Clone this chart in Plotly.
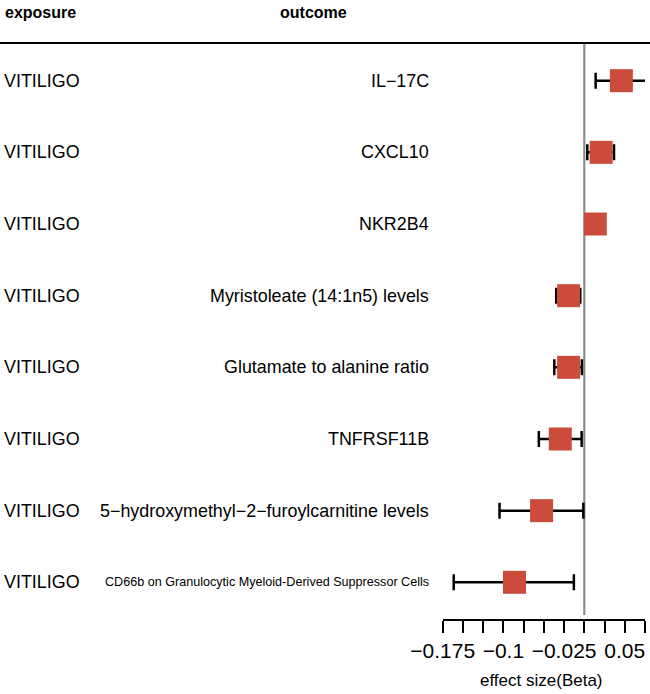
import plotly.graph_objects as go

exposure = ["VITILIGO"] * 8
outcome = [
    "IL−17C",
    "CXCL10",
    "NKR2B4",
    "Myristoleate (14:1n5) levels",
    "Glutamate to alanine ratio",
    "TNFRSF11B",
    "5−hydroxymethyl−2−furoylcarnitine levels",
    "CD66b on Granulocytic Myeloid-Derived Suppressor Cells",
]
beta = [0.0458, 0.0208, 0.0136, -0.0194, -0.0194, -0.0297, -0.0528, -0.0863]
lower = [0.0140, 0.0037, 0.0070, -0.0347, -0.0371, -0.0562, -0.1048, -0.1614]
upper = [0.0775, 0.0367, 0.0200, -0.0050, -0.0030, -0.0033, -0.0012, -0.0129]
tick_vals = [-0.175, -0.15, -0.125, -0.1, -0.075, -0.05, -0.025, 0.0, 0.025, 0.05, 0.075]
tick_text = ["−0.175", "", "", "−0.1", "", "", "−0.025", "", "", "0.05", ""]
outcome_sizes = [17.9, 17.9, 17.9, 17.9, 17.9, 17.9, 17.9, 12.6]

W, H = 650, 694
top, bottom = 43, 75
PH = H - top - bottom
n = len(outcome)
ypos = [n - i for i in range(n)]

fig = go.Figure()
fig.add_trace(go.Scatter(
    x=beta, y=ypos, mode="markers",
    marker=dict(symbol="square", size=23, color="#CC4C3B", line=dict(width=0)),
    error_x=dict(type="data", symmetric=False,
                 array=[u - b for u, b in zip(upper, beta)],
                 arrayminus=[b - l for b, l in zip(beta, lower)],
                 color="black", thickness=2.5, width=8),
    cliponaxis=False, showlegend=False, hoverinfo="skip",
))

x0px, x1px = 442.7, 645.0
fig.update_layout(
    template="none",
    width=W, height=H, autosize=False,
    margin=dict(l=0, r=0, t=top, b=bottom, pad=0, autoexpand=False),
    paper_bgcolor="white", plot_bgcolor="white",
    showlegend=False,
    font=dict(family="Liberation Sans, Arial, sans-serif", color="black"),
    xaxis=dict(
        automargin=False,
        domain=[x0px / W, x1px / W], range=[-0.175, 0.075],
        showgrid=False, zeroline=False,
        showline=True, linecolor="black", linewidth=2,
        ticks="outside", ticklen=12, tickwidth=2, tickcolor="black",
        tickvals=tick_vals, ticktext=tick_text,
        tickfont=dict(size=21, color="black"),
    ),
    yaxis=dict(visible=False, automargin=False, range=[0.488, 8.526]),
)

# x axis title
fig.add_annotation(text="effect size(Beta)", xref="paper", yref="paper",
                   x=541.5 / W, y=(H - bottom - 680) / PH, xanchor="center", yanchor="middle",
                   showarrow=False, font=dict(size=17))

# vertical reference line at 0
fig.add_shape(type="line", xref="x", yref="paper", x0=0, x1=0,
              y0=(H - bottom - 615) / PH, y1=1,
              line=dict(color="#8C8C8C", width=2.2), layer="below")
# top header rule
fig.add_shape(type="line", xref="paper", yref="paper", x0=0, x1=1, y0=1, y1=1,
              line=dict(color="black", width=2.2))

# headers
fig.add_annotation(text="<b>exposure</b>", xref="paper", yref="paper",
                   x=3 / W, y=1 + (43 - 12) / PH, xanchor="left", yanchor="middle",
                   showarrow=False, font=dict(size=16))
fig.add_annotation(text="<b>outcome</b>", xref="paper", yref="paper",
                   x=313 / W, y=1 + (43 - 12) / PH, xanchor="center", yanchor="middle",
                   showarrow=False, font=dict(size=16))

for i in range(n):
    fig.add_annotation(text=exposure[i], xref="paper", yref="y", x=2 / W, y=ypos[i],
                       xanchor="left", yanchor="middle", showarrow=False, font=dict(size=17.9))
    fig.add_annotation(text=outcome[i], xref="paper", yref="y", x=431 / W, y=ypos[i],
                       xanchor="right", yanchor="middle", showarrow=False,
                       font=dict(size=outcome_sizes[i]))

fig.write_html("out.html", config={"displayModeBar": False},
               post_script="document.body.style.margin='0';document.body.style.padding='0';")
